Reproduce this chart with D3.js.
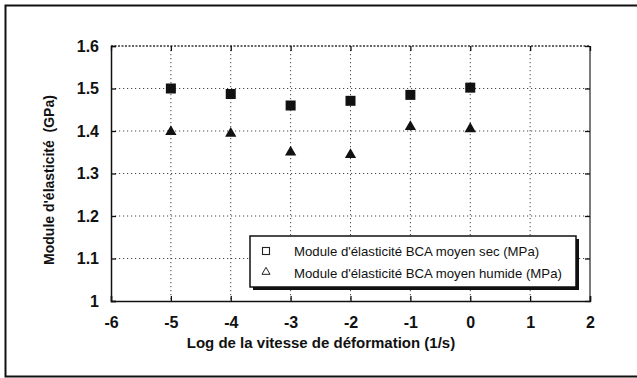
<!DOCTYPE html>
<html>
<head>
<meta charset="utf-8">
<script src="https://cdn.jsdelivr.net/npm/d3@7"></script>
<style>
  html, body { margin: 0; padding: 0; background: #fff; }
  svg { display: block; }
  text { font-family: "Liberation Sans", Arial, sans-serif; fill: #111; white-space: pre; }
</style>
</head>
<body>
<svg id="chart" width="637" height="378"></svg>
<script>
// ---- data ----
const xValues = [-5, -4, -3, -2, -1, 0];
const secValues = [1.50, 1.487, 1.46, 1.471, 1.485, 1.502];
const humideValues = [1.398, 1.394, 1.35, 1.344, 1.41, 1.405];
const xTicks = [-6, -5, -4, -3, -2, -1, 0, 1, 2];
const yTicks = [1, 1.1, 1.2, 1.3, 1.4, 1.5, 1.6];
const seriesNames = ["Module d'élasticité BCA moyen sec (MPa)", "Module d'élasticité BCA moyen humide (MPa)"];
const xTitle = "Log de la vitesse de déformation (1/s)";
const yTitle = "Module d'élasticité  (GPa)";

const svg = d3.select("#chart");
const W = 637, H = 378;
const m = { left: 111, top: 46, right: 590, bottom: 301 };

// outer frame
svg.append("path")
  .attr("d", `M${W + 5},5.5 H5.5 V376.5 H${W + 5}`)
  .attr("fill", "none").attr("stroke", "#111").attr("stroke-width", 2);

const x = d3.scaleLinear().domain([-6, 2]).range([m.left, m.right]);
const y = d3.scaleLinear().domain([1, 1.6]).range([m.bottom, m.top]);

// grid
const g = svg.append("g");
g.selectAll(".gx").data(xTicks.slice(1, -1)).join("line")
  .attr("x1", d => x(d)).attr("x2", d => x(d))
  .attr("y1", m.top).attr("y2", m.bottom)
  .attr("stroke", "#444").attr("stroke-width", 1).attr("stroke-dasharray", "1.2,2.8");
g.selectAll(".gy").data(yTicks.slice(1, -1)).join("line")
  .attr("x1", m.left).attr("x2", m.right)
  .attr("y1", d => y(d)).attr("y2", d => y(d))
  .attr("stroke", "#444").attr("stroke-width", 1).attr("stroke-dasharray", "1.2,2.8");

// top border dotted, right border solid-ish
g.append("line").attr("x1", m.left).attr("x2", m.right).attr("y1", m.top).attr("y2", m.top)
  .attr("stroke", "#333").attr("stroke-width", 1.3).attr("stroke-dasharray", "2,1.5");
g.append("line").attr("x1", m.right).attr("x2", m.right).attr("y1", m.top).attr("y2", m.bottom)
  .attr("stroke", "#333").attr("stroke-width", 1.3);

// axes
const fontSize = "16px";
const xAxis = d3.axisBottom(x).tickValues(xTicks).tickSize(-5).tickPadding(16).tickFormat(d => String(d));
const xg = svg.append("g").attr("transform", `translate(0,${m.bottom})`).call(xAxis);
xg.select(".domain").attr("stroke", "#111").attr("stroke-width", 1.5);
xg.selectAll(".tick line").attr("stroke", "#111").attr("stroke-width", 1.3);
xg.selectAll("text").style("font-size", fontSize).style("font-weight", "bold").attr("fill", "#111");

const yAxis = d3.axisLeft(y).tickValues(yTicks).tickSize(-5).tickPadding(12).tickFormat(d => d === 1 ? "1" : d3.format(".1f")(d));
const yg = svg.append("g").attr("transform", `translate(${m.left},0)`).call(yAxis);
yg.select(".domain").attr("stroke", "#111").attr("stroke-width", 1.5);
yg.selectAll(".tick line").attr("stroke", "#111").attr("stroke-width", 1.3);
yg.selectAll("text").style("font-size", fontSize).style("font-weight", "bold").attr("fill", "#111");

// top & right ticks
const xt = svg.append("g").attr("transform", `translate(0,${m.top})`).call(d3.axisTop(x).tickValues(xTicks).tickSize(-5).tickFormat(""));
xt.select(".domain").remove();
xt.selectAll(".tick line").attr("stroke", "#111").attr("stroke-width", 1.3);
const yr = svg.append("g").attr("transform", `translate(${m.right},0)`).call(d3.axisRight(y).tickValues(yTicks).tickSize(-5).tickFormat(""));
yr.select(".domain").remove();
yr.selectAll(".tick line").attr("stroke", "#111").attr("stroke-width", 1.3);

// data marks
const sqSize = 10;
svg.append("g").selectAll("rect").data(xValues.map((v, i) => [v, secValues[i]])).join("rect")
  .attr("x", d => x(d[0]) - sqSize / 2).attr("y", d => y(d[1]) - sqSize / 2)
  .attr("width", sqSize).attr("height", sqSize).attr("fill", "#111");

const tri = d3.symbol().type(d3.symbolTriangle).size(55);
svg.append("g").selectAll("path").data(xValues.map((v, i) => [v, humideValues[i]])).join("path")
  .attr("transform", d => `translate(${x(d[0])},${y(d[1])})`)
  .attr("d", tri).attr("fill", "#111");

// legend
const lg = svg.append("g");
const L = { x: 250, y: 236, w: 326, h: 51 };
lg.append("rect").attr("x", L.x + 3).attr("y", L.y + 3).attr("width", L.w).attr("height", L.h).attr("fill", "#111");
lg.append("rect").attr("x", L.x).attr("y", L.y).attr("width", L.w).attr("height", L.h)
  .attr("fill", "#fff").attr("stroke", "#111").attr("stroke-width", 1.5);
lg.append("rect").attr("x", 262.5).attr("y", 247.5).attr("width", 7).attr("height", 7)
  .attr("fill", "none").attr("stroke", "#222").attr("stroke-width", 1.1);
lg.append("path").attr("transform", "translate(266,272)")
  .attr("d", d3.symbol().type(d3.symbolTriangle).size(28)).attr("fill", "none").attr("stroke", "#222").attr("stroke-width", 1);
lg.selectAll("text.leg").data(seriesNames).join("text")
  .attr("x", 294).attr("y", (d, i) => 255.5 + i * 22)
  .style("font-size", "13.2px").text(d => d);

// axis titles
svg.append("text").attr("x", 321).attr("y", 348).attr("text-anchor", "middle")
  .style("font-size", "15px").style("font-weight", "bold").text(xTitle);
svg.append("text").attr("transform", "translate(54,180) rotate(-90)").attr("text-anchor", "middle")
  .style("font-size", "14px").style("font-weight", "bold").text(yTitle);
</script>
</body>
</html>
